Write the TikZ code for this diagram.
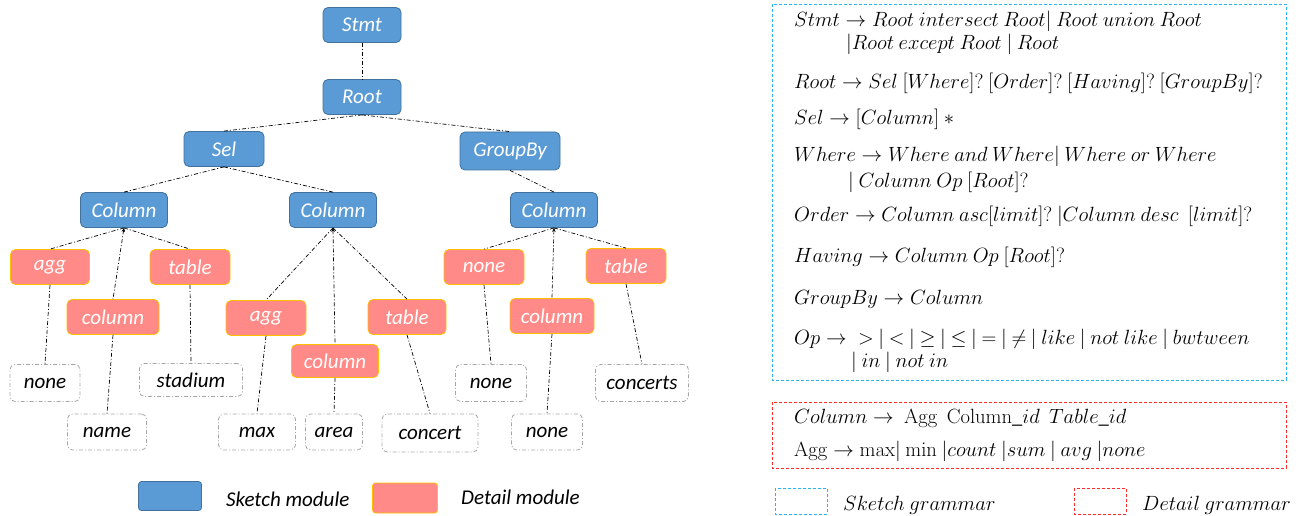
\RequirePackage{fix-cm}
\documentclass[tikz,border=0pt]{standalone}
\usepackage[no-math]{fontspec}
\setmainfont{Carlito}
\usetikzlibrary{arrows.meta}
\definecolor{blfill}{HTML}{5B9BD5}
\definecolor{bldraw}{HTML}{41719C}
\definecolor{rdfill}{HTML}{FF8A87}
\definecolor{rddraw}{HTML}{FFC000}
\definecolor{lfdraw}{HTML}{A6A6A6}
\definecolor{cyanbox}{HTML}{29B6F0}
\definecolor{redbox}{HTML}{FF2A2A}
\tikzset{
 tn/.style={rounded corners=5pt, inner sep=0pt, minimum height=35pt, font=\fontsize{21}{24}\selectfont\itshape},
 bl/.style={tn, fill=blfill, draw=bldraw, line width=0.8pt, text=white},
 rd/.style={tn, fill=rdfill, draw=rddraw, line width=0.8pt, text=white},
 lf/.style={tn, draw=lfdraw, line width=0.8pt, dash pattern=on 4pt off 2pt on 1pt off 2pt, text=black},
 con/.style={draw=black, line width=0.7pt, dash pattern=on 4pt off 2pt on 1pt off 2pt},
 upt/.style={{Stealth[length=4pt,width=3.5pt]}-},
 gr/.style={anchor=base west, inner sep=0pt, font=\fontsize{20.6}{24}\selectfont},
 lgt/.style={anchor=west, inner sep=0pt, font=\fontsize{21}{24}\selectfont\itshape},
 cbox/.style={draw=cyanbox, line width=0.8pt, dash pattern=on 3pt off 2pt},
 rbox/.style={draw=redbox, line width=0.8pt, dash pattern=on 3pt off 2pt},
}
\begin{document}
\begin{tikzpicture}[x=1pt,y=-1pt]
\useasboundingbox (0,0) rectangle (1299,516);
% sketch nodes
\node[bl, minimum width=78pt] (stmt) at (362,25) {Stmt};
\node[bl, minimum width=78pt] (root) at (362,97) {Root};
\node[bl, minimum width=80pt] (sel) at (224,149) {Sel};
\node[bl, minimum width=100pt, minimum height=38pt] (grp) at (510,151) {GroupBy};
\node[bl, minimum width=87pt] (colA) at (124,210) {Column};
\node[bl, minimum width=87pt] (colB) at (333,210) {Column};
\node[bl, minimum width=87pt] (colC) at (554,210) {Column};
% detail nodes
\node[rd, minimum width=79pt] (aggA) at (50,267) {agg};
\node[rd, minimum width=80pt] (tabA) at (190,267) {table};
\node[rd, minimum width=92pt] (cA) at (113,317) {column};
\node[rd, minimum width=80pt] (aggB) at (266,318) {agg};
\node[rd, minimum width=87pt, minimum height=33pt] (cB) at (335,361) {column};
\node[rd, minimum width=78pt] (tabB) at (407,317) {table};
\node[rd, minimum width=80pt] (nonC) at (484,267) {none};
\node[rd, minimum width=84pt] (cC) at (552,316) {column};
\node[rd, minimum width=80pt] (tabC) at (626,266) {table};
% leaves
\node[lf, minimum width=70pt, minimum height=37pt] (lA1) at (45,383) {none};
\node[lf, minimum width=103pt, minimum height=33pt] (lA2) at (191,380) {stadium};
\node[lf, minimum width=79pt, minimum height=36pt] (lA3) at (107,432) {name};
\node[lf, minimum width=77pt, minimum height=36pt] (lB1) at (257,432) {max};
\node[lf, minimum width=57pt, minimum height=36pt] (lB2) at (334,432) {area};
\node[lf, minimum width=96pt, minimum height=38pt] (lB3) at (430,433) {concert};
\node[lf, minimum width=71pt, minimum height=37pt] (lC1) at (491,383) {none};
\node[lf, minimum width=71pt, minimum height=36pt] (lC2) at (547,432) {none};
\node[lf, minimum width=93pt, minimum height=37pt] (lC3) at (642,383) {concerts};
% connectors
\draw[con] (stmt.south) -- (root.north);
\draw[con] (root.south) -- (sel.north);
\draw[con] (root.south) -- (grp.north);
\draw[con] (sel.south) -- (colA.north);
\draw[con] (sel.south) -- (colB.north);
\draw[con] (grp.south) -- (colC.north);
\draw[con] (colA.south) -- (aggA.north);
\draw[con,upt] (colA.south) -- (cA.north);
\draw[con] (colA.south) -- (tabA.north);
\draw[con] (colB.south) -- (aggB.north);
\draw[con,upt] (colB.south) -- (cB.north);
\draw[con] (colB.south) -- (tabB.north);
\draw[con] (colC.south) -- (nonC.north);
\draw[con,upt] (colC.south) -- (cC.north);
\draw[con] (colC.south) -- (tabC.north);
\draw[con] (aggA.south) -- (lA1.north);
\draw[con] (tabA.south) -- (lA2.north);
\draw[con] (cA.south) -- (lA3.north);
\draw[con] (aggB.south) -- (lB1.north);
\draw[con] (cB.south) -- (lB2.north);
\draw[con] (tabB.south) -- (lB3.north);
\draw[con] (nonC.south) -- (lC1.north);
\draw[con] (cC.south) -- (lC2.north);
\draw[con] (tabC.south) -- (lC3.north);
% legend left
\node[bl, minimum width=63pt, minimum height=29pt, rounded corners=3pt] (lgB) at (170,496) {};
\node[lgt, text=black] (lgBt) at (226,499) {Sketch module};
\node[rd, minimum width=65pt, minimum height=30pt, rounded corners=3pt] (lgR) at (405,498) {};
\node[lgt, text=black] (lgRt) at (461,497) {Detail module};
% grammar boxes
\draw[cbox] (772,4) rectangle (1286,380);
\draw[rbox] (772,402) rectangle (1286,468);
\node[gr] (g1) at (794,27) {$Stmt\rightarrow Root\ intersect\ Root|\ Root\ union\ Root$};
\node[gr] (g2) at (846,50) {$|Root\ except\ Root\ |\ Root$};
\node[gr] (g3) at (794,89) {$Root\rightarrow Sel\ [Where]?\ [Order]?\ [Having]?\ [GroupBy]?$};
\node[gr] (g4) at (794,125) {$Sel\rightarrow[Column]\ \ast$};
\node[gr] (g5) at (794,162) {$Where\rightarrow Where\ and\ Where|\ Where\ or\ Where$};
\node[gr] (g6) at (848,187) {$|\ Column\ Op\ [Root]?$};
\node[gr] (g7) at (794,222) {$Order\rightarrow Column\ asc[limit]?\ |Column\ desc\ \ [limit]?$};
\node[gr] (g8) at (794,262) {$Having\rightarrow Column\ Op\ [Root]?$};
\node[gr] (g9) at (794,304) {$GroupBy\rightarrow Column$};
\node[gr] (g10) at (794,344) {$Op\rightarrow\;{>}\ |\ {<}\ |\ {\geq}\ |\ {\leq}\ |\ {=}\ |\ {\neq}\ |\ like\ |\ not\ like\ |\ bwtween$};
\node[gr] (g11) at (851,367) {$|\ in\ |\ not\ in$};
\node[gr] (g12) at (794,423) {$Column\rightarrow\ \mathrm{Agg}\ \ \mathrm{Column}\_id\ \ Table\_id$};
\node[gr] (g13) at (794,456) {$\mathrm{Agg}\rightarrow\mathrm{max}|\ \mathrm{min}\ |count\ |sum\ |\ avg\ |none$};
% legend right
\draw[cbox] (775,488) rectangle (827,514);
\node[gr] (lg3) at (843,510) {$Sketch\ grammar$};
\draw[rbox] (1074,488) rectangle (1126,514);
\node[gr] (lg4) at (1142,510) {$Detail\ grammar$};
\end{tikzpicture}
\end{document}
